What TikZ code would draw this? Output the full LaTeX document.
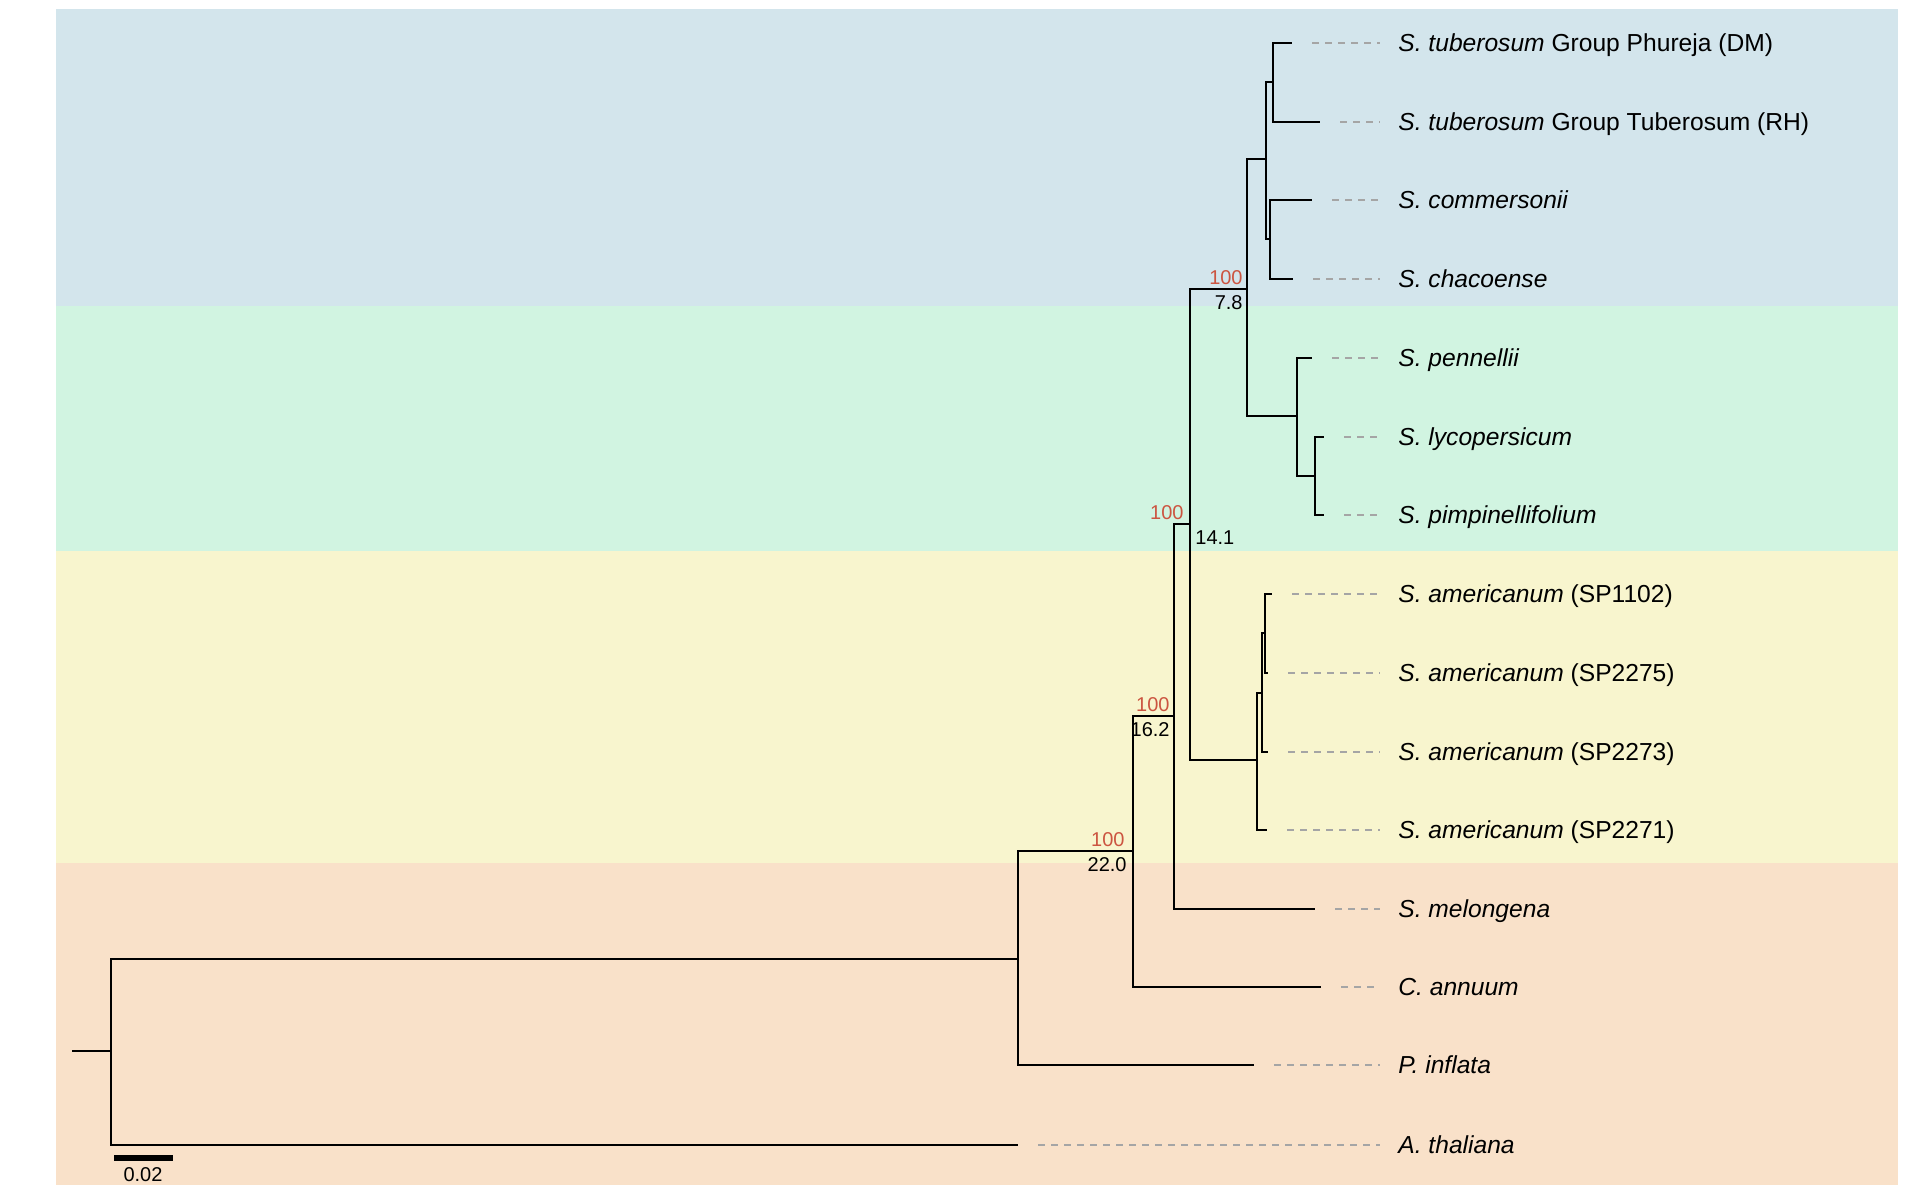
\documentclass[tikz,border=0pt]{standalone}
\usepackage{fontspec}
\setmainfont{Liberation Sans}
\usetikzlibrary{positioning}
\definecolor{bgblue}{RGB}{211,229,236}
\definecolor{bggreen}{RGB}{209,244,225}
\definecolor{bgyellow}{RGB}{248,245,206}
\definecolor{bgorange}{RGB}{249,225,201}
\definecolor{bootred}{RGB}{204,85,65}
\definecolor{dashgrey}{RGB}{165,165,165}
\tikzset{
  branch/.style={line width=1pt},
  guide/.style={draw=dashgrey, line width=0.8pt, dash pattern=on 3.5pt off 3pt, shorten <=10pt, shorten >=9pt},
  taxon/.style={anchor=west, inner sep=0pt, text height=10pt, text depth=1.5pt, font=\fontsize{12.3}{14}\selectfont},
  boot/.style={text=bootred, inner sep=1pt, font=\fontsize{10}{11}\selectfont},
  brlen/.style={inner sep=1pt, font=\fontsize{10}{11}\selectfont}
}
\begin{document}
\begin{tikzpicture}[x=0.5pt,y=-0.5pt]
	\useasboundingbox (0,0) rectangle (1920,1198);
	% Hintergrund
		\fill[bgblue]   (56,9)   rectangle (1898,306);
		\fill[bggreen]  (56,306) rectangle (1898,551);
		\fill[bgyellow] (56,551) rectangle (1898,863);
		\fill[bgorange] (56,863) rectangle (1898,1185);
	% Innere Knoten
		\coordinate (stem) at (72,1051);
		\coordinate (root) at (111,1051);
		\coordinate (pet) at (1018,959);
		\coordinate (sc) at (1133,851);
		\coordinate (sol) at (1174,716);
		\coordinate (n14) at (1190,524);
		\coordinate (n78) at (1247,289);
		\coordinate (pot) at (1266,159);
		\coordinate (pot1) at (1273,82);
		\coordinate (pot2) at (1270,239);
		\coordinate (tom) at (1297,416);
		\coordinate (tom2) at (1315,476);
		\coordinate (am) at (1257,760);
		\coordinate (am2) at (1262,693);
		\coordinate (am3) at (1265,633);
	% Blaetter
		\coordinate (tdm) at (1292,43);
		\coordinate (trh) at (1320,122);
		\coordinate (tcom) at (1312,200);
		\coordinate (tcha) at (1293,279);
		\coordinate (tpen) at (1312,358);
		\coordinate (tlyc) at (1324,437);
		\coordinate (tpim) at (1324,515);
		\coordinate (t1102) at (1272,594);
		\coordinate (t2275) at (1268,673);
		\coordinate (t2273) at (1268,752);
		\coordinate (t2271) at (1267,830);
		\coordinate (tmel) at (1315,909);
		\coordinate (tann) at (1321,987);
		\coordinate (tinf) at (1254,1065);
		\coordinate (ttha) at (1018,1145);
	% Namen
		\node (dm) at (1398,43) [taxon] {\textit{S. tuberosum} Group Phureja (DM)};
		\node (rh) at (1398,122) [taxon] {\textit{S. tuberosum} Group Tuberosum (RH)};
		\node (com) at (1398,200) [taxon] {\textit{S. commersonii}};
		\node (cha) at (1398,279) [taxon] {\textit{S. chacoense}};
		\node (pen) at (1398,358) [taxon] {\textit{S. pennellii}};
		\node (lyc) at (1398,437) [taxon] {\textit{S. lycopersicum}};
		\node (pim) at (1398,515) [taxon] {\textit{S. pimpinellifolium}};
		\node (a1102) at (1398,594) [taxon] {\textit{S. americanum} (SP1102)};
		\node (a2275) at (1398,673) [taxon] {\textit{S. americanum} (SP2275)};
		\node (a2273) at (1398,752) [taxon] {\textit{S. americanum} (SP2273)};
		\node (a2271) at (1398,830) [taxon] {\textit{S. americanum} (SP2271)};
		\node (mel) at (1398,909) [taxon] {\textit{S. melongena}};
		\node (ann) at (1398,987) [taxon] {\textit{C. annuum}};
		\node (inf) at (1398,1065) [taxon] {\textit{P. inflata}};
		\node (tha) at (1398,1145) [taxon] {\textit{A. thaliana}};
	% Kanten
		\draw[branch] (stem) -- (root);
		\draw[branch] (root) |- (pet);
		\draw[branch] (root) |- (ttha);
		\draw[branch] (pet) |- (sc);
		\draw[branch] (pet) |- (tinf);
		\draw[branch] (sc) |- (sol);
		\draw[branch] (sc) |- (tann);
		\draw[branch] (sol) |- (n14);
		\draw[branch] (sol) |- (tmel);
		\draw[branch] (n14) |- (n78);
		\draw[branch] (n14) |- (am);
		\draw[branch] (n78) |- (pot);
		\draw[branch] (n78) |- (tom);
		\draw[branch] (pot) |- (pot1);
		\draw[branch] (pot) |- (pot2);
		\draw[branch] (pot1) |- (tdm);
		\draw[branch] (pot1) |- (trh);
		\draw[branch] (pot2) |- (tcom);
		\draw[branch] (pot2) |- (tcha);
		\draw[branch] (tom) |- (tpen);
		\draw[branch] (tom) |- (tom2);
		\draw[branch] (tom2) |- (tlyc);
		\draw[branch] (tom2) |- (tpim);
		\draw[branch] (am) |- (am2);
		\draw[branch] (am) |- (t2271);
		\draw[branch] (am2) |- (am3);
		\draw[branch] (am2) |- (t2273);
		\draw[branch] (am3) |- (t1102);
		\draw[branch] (am3) |- (t2275);
	% Hilfslinien
		\draw[guide] (tdm) -- (dm.west);
		\draw[guide] (trh) -- (rh.west);
		\draw[guide] (tcom) -- (com.west);
		\draw[guide] (tcha) -- (cha.west);
		\draw[guide] (tpen) -- (pen.west);
		\draw[guide] (tlyc) -- (lyc.west);
		\draw[guide] (tpim) -- (pim.west);
		\draw[guide] (t1102) -- (a1102.west);
		\draw[guide] (t2275) -- (a2275.west);
		\draw[guide] (t2273) -- (a2273.west);
		\draw[guide] (t2271) -- (a2271.west);
		\draw[guide] (tmel) -- (mel.west);
		\draw[guide] (tann) -- (ann.west);
		\draw[guide] (tinf) -- (inf.west);
		\draw[guide] (ttha) -- (tha.west);
	% Stuetzwerte
		\node (b78) at (n78) [boot, anchor=south east, xshift=-1pt, yshift=1pt] {100};
		\node (l78) at (n78) [brlen, anchor=north east, xshift=-1pt, yshift=-2pt] {7.8};
		\node (b14) at (n14) [boot, anchor=south east, xshift=-2pt, yshift=1pt] {100};
		\node (l14) at (n14) [brlen, anchor=north west, xshift=1.5pt, yshift=-2pt] {14.1};
		\node (b16) at (sol) [boot, anchor=south east, xshift=-1pt, yshift=1pt] {100};
		\node (l16) at (sol) [brlen, anchor=north east, xshift=-1pt, yshift=-2pt] {16.2};
		\node (b22) at (sc) [boot, anchor=south east, xshift=-3pt, yshift=1pt] {100};
		\node (l22) at (sc) [brlen, anchor=north east, xshift=-2pt, yshift=-2pt] {22.0};
	% Massstab
		\coordinate (sb1) at (114,1158);
		\coordinate (sb2) at (173,1158);
		\draw[line width=3pt] (sb1) -- (sb2);
		\node (sbl) at (143,1175) [brlen] {0.02};
\end{tikzpicture}
\end{document}
